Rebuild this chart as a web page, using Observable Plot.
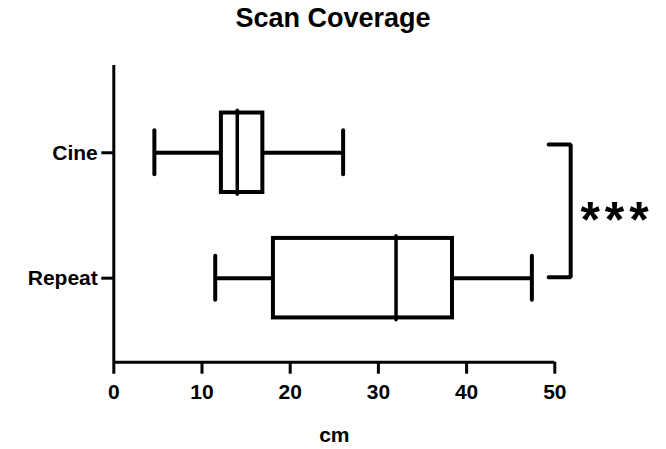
<!DOCTYPE html>
<html><head><meta charset="utf-8">
<script src="https://cdn.jsdelivr.net/npm/d3@7"></script>
<script src="https://cdn.jsdelivr.net/npm/@observablehq/plot@0.6"></script>
<style>
body{margin:0;background:#fff;font-family:"Liberation Sans",Arial,sans-serif;}
#title{height:38px;line-height:36px;font-size:27px;font-weight:bold;text-align:center;width:666px;color:#000;overflow:hidden;}
</style></head><body>
<div id="title">Scan Coverage</div>
<div id="chart"></div>
<script>
const groups = ["Cine", "Repeat"];
const mins = [4.6, 11.5];
const q1s = [12.2, 18.1];
const medians = [14.0, 32.0];
const q3s = [16.9, 38.4];
const maxs = [26.0, 47.4];
const xTicks = [0, 10, 20, 30, 40, 50];
const xLabel = "cm";
const sigLabel = "***";
const sigPair = ["Cine", "Repeat"];
const bracketX = [49.3, 51.8];

const rows = groups.map((g, i) => ({g, i, min: mins[i], q1: q1s[i], med: medians[i], q3: q3s[i], max: maxs[i]}));
const boxH = 0.317, capH = 0.1755, medH = 0.335;
const yDomain = [-0.696, 1.670];
const i0 = groups.indexOf(sigPair[0]), i1 = groups.indexOf(sigPair[1]);
const bracket = [
  {x: bracketX[0], y: i0 - 0.066},
  {x: bracketX[1], y: i0 - 0.066},
  {x: bracketX[1], y: i1 - 0.008},
  {x: bracketX[0], y: i1 - 0.008}
];
const font = {fontFamily: "Liberation Sans, Arial, sans-serif", fontWeight: "bold"};

const chart = Plot.plot({
  width: 666, height: 411,
  marginLeft: 113.3, marginRight: 111.7, marginTop: 27, marginBottom: 87.3,
  x: {domain: [0, 50]},
  y: {domain: yDomain, reverse: true},
  style: {background: "#fff", color: "#000", fontFamily: font.fontFamily, fontWeight: "bold", overflow: "visible"},
  marks: [
    Plot.ruleX([0], {stroke: "#000", strokeWidth: 3}),
    Plot.ruleY([yDomain[1]], {stroke: "#000", strokeWidth: 3}),
    Plot.axisX({ticks: xTicks, tickSize: 12, tickPadding: 10, fontSize: 21, strokeWidth: 3, label: null, tickFormat: d => d}),
    Plot.axisY({ticks: groups.map((g, i) => i), tickFormat: i => groups[i], tickSize: 12, tickPadding: 4, fontSize: 21, strokeWidth: 3, label: null}),
    Plot.text([xLabel], {frameAnchor: "bottom", dy: 80, fontSize: 21, fontWeight: "bold", fill: "#000"}),
    Plot.ruleY(rows, {y: "i", x1: "min", x2: "q1", stroke: "#000", strokeWidth: 4}),
    Plot.ruleY(rows, {y: "i", x1: "q3", x2: "max", stroke: "#000", strokeWidth: 4}),
    Plot.ruleX(rows, {x: "min", y1: d => d.i - capH, y2: d => d.i + capH, stroke: "#000", strokeWidth: 4, strokeLinecap: "round"}),
    Plot.ruleX(rows, {x: "max", y1: d => d.i - capH, y2: d => d.i + capH, stroke: "#000", strokeWidth: 4, strokeLinecap: "round"}),
    Plot.rectX(rows, {x1: "q1", x2: "q3", y1: d => d.i - boxH, y2: d => d.i + boxH, fill: "#fff", stroke: "#000", strokeWidth: 4}),
    Plot.ruleX(rows, {x: "med", y1: d => d.i - medH, y2: d => d.i + medH, stroke: "#000", strokeWidth: 3.5, strokeLinecap: "round"}),
    Plot.line(bracket, {x: "x", y: "y", stroke: "#000", strokeWidth: 4, strokeLinejoin: "miter", strokeLinecap: "round"}),
    Plot.text([sigLabel], {x: 52.9, y: (i0 + i1) / 2 - 0.05, text: d => d, textAnchor: "start", fontSize: 50, fontWeight: "bold", fill: "#000", dy: 12})
  ]
});
d3.select(chart).selectAll("text").filter(function () { return this.textContent === sigLabel; }).attr("letter-spacing", "5px");
document.getElementById("chart").appendChild(chart);
</script>
</body></html>
